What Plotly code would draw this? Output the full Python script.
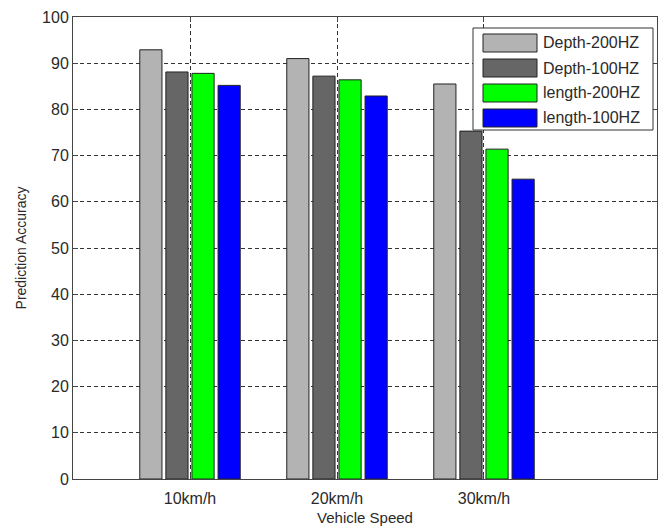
import plotly.graph_objects as go

categories = ["10km/h", "20km/h", "30km/h"]
cat_pos = [1, 2, 3]
series_names = ["Depth-200HZ", "Depth-100HZ", "length-200HZ", "length-100HZ"]
depth_200 = [92.9, 91.0, 85.5]
depth_100 = [88.1, 87.2, 75.3]
length_200 = [87.8, 86.4, 71.4]
length_100 = [85.2, 82.9, 64.9]
series_values = [depth_200, depth_100, length_200, length_100]
colors = ["#b3b3b3", "#666666", "#00ff00", "#0000ff"]
y_ticks = [0, 10, 20, 30, 40, 50, 60, 70, 80, 90, 100]

W, H = 658, 526
ML, MR, MT, MB = 73, 1, 17, 47
PW, PH = W - ML - MR, H - MT - MB

fig = go.Figure()
for name, vals, col in zip(series_names, series_values, colors):
    fig.add_trace(go.Bar(
        x=cat_pos, y=vals, name=name,
        marker=dict(color=col, line=dict(color="#222222", width=1)),
        showlegend=False,
    ))

font_family = "Liberation Sans, Arial, sans-serif"
txt_col = "#2a2a2a"

fig.update_layout(
    width=W, height=H,
    margin=dict(l=ML, r=MR, t=MT, b=MB),
    paper_bgcolor="white", plot_bgcolor="white",
    barmode="group", bargap=0.29, bargroupgap=0.15,
    font=dict(family=font_family, size=16, color=txt_col),
    xaxis=dict(
        range=[0.204, 4.177], tickvals=cat_pos, ticktext=categories,
        showgrid=True, gridcolor="#333333", griddash="4px,3px", gridwidth=1,
        showline=True, linecolor="#444444", linewidth=1, mirror="ticks",
        ticks="inside", ticklen=5, tickcolor="#444444",
        tickfont=dict(size=16, color=txt_col), ticklabelstandoff=5,
        title=dict(text="Vehicle Speed", font=dict(size=15, color=txt_col), standoff=6),
        zeroline=False,
    ),
    yaxis=dict(
        range=[0, 100], tickvals=y_ticks,
        showgrid=True, gridcolor="#333333", griddash="4px,3px", gridwidth=1,
        showline=True, linecolor="#444444", linewidth=1, mirror="ticks",
        ticks="inside", ticklen=5, tickcolor="#444444",
        tickfont=dict(size=16, color=txt_col),
        title=dict(text="Prediction Accuracy", font=dict(size=14, color=txt_col), standoff=12),
        zeroline=False,
    ),
)

def px2x(px):
    return (px - ML) / PW

def px2y(py):
    return (H - MB - py) / PH

# custom legend box
shapes = [dict(type="rect", xref="paper", yref="paper",
               x0=px2x(473), x1=px2x(653), y0=px2y(130), y1=px2y(28),
               line=dict(color="#333333", width=1), fillcolor="white", layer="above")]
annotations = []
row_centers = [43, 68, 93, 118]
for name, col, yc in zip(series_names, colors, row_centers):
    shapes.append(dict(type="rect", xref="paper", yref="paper",
                       x0=px2x(483), x1=px2x(537), y0=px2y(yc + 9), y1=px2y(yc - 9),
                       line=dict(color="#222222", width=1), fillcolor=col, layer="above"))
    annotations.append(dict(xref="paper", yref="paper", x=px2x(541), y=px2y(yc),
                            text=name, showarrow=False, xanchor="left", yanchor="middle",
                            font=dict(size=16, color=txt_col, family=font_family)))
fig.update_layout(shapes=shapes, annotations=annotations)

fig.write_html("out.html")
